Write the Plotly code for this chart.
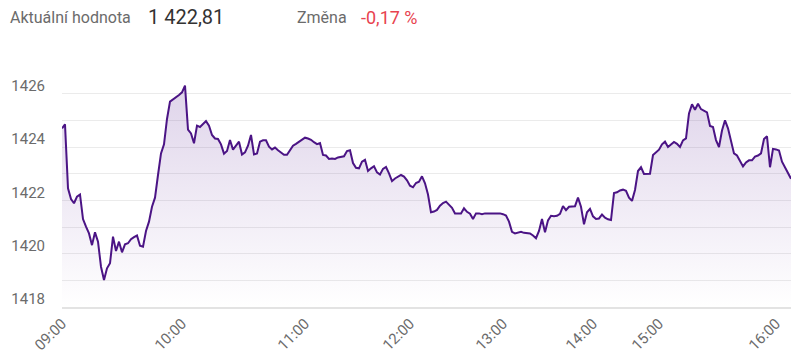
import plotly.graph_objects as go

# Intraday index values, one sample per step along the (ordinal) session axis
prices = [
    1424.70, 1424.85, 1422.45, 1422.05, 1421.89, 1422.14, 1422.22, 1421.30, 1421.01, 1420.76,
    1420.32, 1420.80, 1420.45, 1419.51, 1419.01, 1419.45, 1419.64, 1420.64, 1420.10, 1420.45,
    1420.05, 1420.35, 1420.39, 1420.54, 1420.62, 1420.68, 1420.30, 1420.26, 1420.85, 1421.20,
    1421.76, 1422.10, 1422.95, 1423.76, 1424.10, 1425.05, 1425.70, 1425.78, 1425.85, 1425.95,
    1426.05, 1426.30, 1424.65, 1424.51, 1424.14, 1424.80, 1424.75, 1424.85, 1424.97, 1424.80,
    1424.45, 1424.32, 1424.30, 1424.10, 1423.75, 1423.85, 1424.26, 1423.90, 1424.07, 1424.20,
    1423.72, 1423.80, 1424.05, 1424.45, 1423.72, 1423.76, 1424.20, 1424.25, 1424.25, 1424.01,
    1423.91, 1423.98, 1423.88, 1423.78, 1423.71, 1423.71, 1423.90, 1424.05, 1424.12, 1424.20,
    1424.30, 1424.35, 1424.32, 1424.27, 1424.18, 1424.11, 1424.15, 1423.70, 1423.68, 1423.55,
    1423.57, 1423.55, 1423.61, 1423.64, 1423.65, 1423.85, 1423.88, 1423.40, 1423.22, 1423.20,
    1423.45, 1423.52, 1423.10, 1423.20, 1423.28, 1423.05, 1422.97, 1423.18, 1423.25, 1423.01,
    1422.72, 1422.82, 1422.90, 1422.95, 1422.89, 1422.75, 1422.55, 1422.49, 1422.65, 1422.70,
    1422.90, 1422.64, 1422.22, 1421.55, 1421.58, 1421.64, 1421.80, 1421.90, 1421.95, 1421.82,
    1421.72, 1421.51, 1421.51, 1421.51, 1421.70, 1421.57, 1421.50, 1421.30, 1421.51, 1421.51,
    1421.48, 1421.51, 1421.51, 1421.51, 1421.51, 1421.52, 1421.51, 1421.48, 1421.43, 1421.20,
    1420.82, 1420.76, 1420.78, 1420.82, 1420.78, 1420.77, 1420.76, 1420.68, 1420.58, 1420.85,
    1421.30, 1420.80, 1421.25, 1421.42, 1421.40, 1421.42, 1421.49, 1421.78, 1421.63, 1421.76,
    1421.76, 1421.78, 1422.10, 1421.76, 1421.10, 1421.55, 1421.68, 1421.40, 1421.30, 1421.32,
    1421.47, 1421.35, 1421.29, 1421.26, 1422.27, 1422.30, 1422.37, 1422.40, 1422.36, 1422.10,
    1421.98, 1422.39, 1423.10, 1423.24, 1422.99, 1422.99, 1423.00, 1423.70, 1423.80, 1423.90,
    1424.10, 1424.20, 1424.00, 1424.08, 1424.19, 1424.12, 1424.00, 1424.25, 1424.32, 1425.26,
    1425.60, 1425.40, 1425.62, 1425.42, 1425.36, 1425.30, 1424.79, 1424.75, 1424.26, 1424.00,
    1424.62, 1425.00, 1424.70, 1424.20, 1423.76, 1423.68, 1423.45, 1423.27, 1423.42, 1423.50,
    1423.50, 1423.64, 1423.68, 1423.76, 1424.30, 1424.40, 1423.24, 1423.93, 1423.91, 1423.87,
    1423.45, 1423.22, 1423.00, 1422.81,
]
sample_index = list(range(len(prices)))

# Hour ticks (sample index at which each hour begins) and labels
tick_index = [0, 40, 81, 116, 147, 177, 199, 238]
tick_labels = ["09:00", "10:00", "11:00", "12:00", "13:00", "14:00", "15:00", "16:00"]

y_min, y_max = 1418, 1427
current_value = "1 422,81"
change_value = "-0,17 %"

LINE = "#4b1485"
GRID = "#ebebeb"
TXT = "#6b6b6b"

W, H = 800, 363
ML, MR, MT, MB = 62, 9, 67, 56

fig = go.Figure()
fig.add_trace(go.Scatter(
    x=sample_index, y=prices, mode="lines",
    line=dict(color=LINE, width=2),
    fill="tozeroy",
    fillgradient=dict(
        type="vertical", start=y_min, stop=max(prices),
        colorscale=[[0, "rgba(110,60,160,0.0)"], [1, "rgba(110,60,160,0.22)"]],
    ),
    hoverinfo="skip", showlegend=False,
))


def hdr(text, px_x, size, color):
    return dict(
        text=text, xref="paper", yref="paper",
        x=(px_x - ML) / (W - ML - MR), y=1 + (MT - 17) / (H - MT - MB),
        xanchor="left", yanchor="middle", showarrow=False,
        font=dict(size=size, color=color),
    )


fig.update_layout(
    width=W, height=H,
    margin=dict(l=ML, r=MR, t=MT, b=MB),
    paper_bgcolor="white", plot_bgcolor="white",
    font=dict(family="Roboto, Arial, sans-serif", color=TXT, size=15),
    xaxis=dict(
        range=[0, len(prices) - 1], showgrid=False, zeroline=False,
        tickvals=tick_index, ticktext=tick_labels, tickangle=-45,
        showline=True, linecolor="#e3e3e3", linewidth=2,
        ticks="", tickfont=dict(size=15, color=TXT), automargin=False,
    ),
    yaxis=dict(
        range=[y_min, y_max], dtick=2, tick0=y_min,
        showgrid=True, gridcolor=GRID, gridwidth=1, zeroline=False,
        ticks="", tickfont=dict(size=15, color=TXT),
        ticklabelshift=-8, ticklabelstandoff=16, automargin=False,
        minor=dict(dtick=1, tick0=y_min, showgrid=True, gridcolor=GRID, gridwidth=1),
    ),
    annotations=[
        hdr("Aktuální hodnota", 8, 16, "#6b6b6b"),
        hdr(current_value, 146, 20, "#333333"),
        hdr("Změna", 295, 16, "#6b6b6b"),
        hdr(change_value, 359, 18, "#e8434f"),
    ],
)

fig.write_html(
    "out.html",
    config={"displayModeBar": False},
    post_script="document.body.style.margin='0';",
)
